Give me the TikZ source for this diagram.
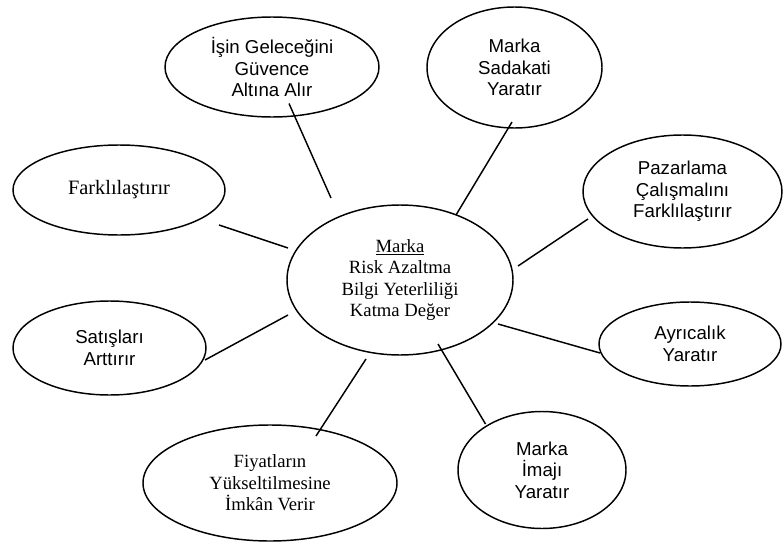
\documentclass[tikz,border=0pt]{standalone}
\usepackage{fontspec}
\setmainfont{Liberation Serif}
\setsansfont{Liberation Sans}
\usetikzlibrary{shapes.geometric,calc}

\tikzset{
  bubble/.style={draw, ellipse, line width=1.1pt, inner sep=0pt, align=center},
  % ellipse given by its semi-axes, in drawing units (px)
  axes/.style 2 args={minimum width=#1*1.5pt, minimum height=#2*1.5pt},
  sanstxt/.style={font=\sffamily\fontsize{14}{16.2}\selectfont},
  seriftxt/.style={font=\rmfamily\fontsize{14}{16.2}\selectfont},
  link/.style={line width=1.1pt}
}

\begin{document}
\begin{tikzpicture}[x=0.75pt, y=-0.75pt]
\useasboundingbox (0,0) rectangle (783,543);

% central ellipse
\node[bubble, seriftxt, axes={113}{75}] (c) at (400,280)
  {\underline{Marka}\\Risk Azaltma\\Bilgi Yeterliliği\\Katma Değer};

% surrounding ellipses
\node[bubble, sanstxt, axes={107}{50}] (isin) at (272,67)
  {İşin Geleceğini\\Güvence\\Altına Alır};
\node[bubble, sanstxt, axes={87.5}{60.5}] (sad) at (514.5,67.5)
  {Marka\\Sadakati\\Yaratır};
\node[bubble, axes={106}{45}, text depth=4pt,
      font=\rmfamily\fontsize{15.3}{17}\selectfont] (fark) at (119,190)
  {Farklılaştırır};
\node[bubble, sanstxt, axes={99.5}{56.5}] (paz) at (682.5,191.5)
  {Pazarlama\\Çalışmalını\\Farklılaştırır};
\node[bubble, sanstxt, axes={96.5}{47}] (sat) at (109.5,348)
  {Satışları\\Arttırır};
\node[bubble, sanstxt, axes={91}{42}] (ayr) at (690,344)
  {Ayrıcalık\\Yaratır};
\node[bubble, sanstxt, axes={84}{58.5}] (ima) at (542,470)
  {Marka\\İmajı\\Yaratır};
\node[bubble, seriftxt, axes={127}{58}] (fiy) at (270,483)
  {Fiyatların\\Yükseltilmesine\\İmkân Verir};

% spokes from the centre
\draw[link] ($(c.center)+(-69,-82)$) -- ($(isin.center)+(17,36.5)$);
\draw[link] ($(c.center)+(56,-65)$) -- ($(sad.center)+(-2.5,54.5)$);
\draw[link] ($(c.center)+(-112,-32)$) -- ($(fark.center)+(100,35)$);
\draw[link] ($(c.center)+(118,-14)$) -- ($(paz.center)+(-94.5,27.5)$);
\draw[link] ($(c.center)+(-112,35)$) -- ($(sat.center)+(95.5,12)$);
\draw[link] ($(c.center)+(98,44)$) -- ($(ayr.center)+(-90,9)$);
\draw[link] ($(c.center)+(38,64)$) -- ($(ima.center)+(-56.5,-46)$);
\draw[link] ($(c.center)+(-34,79)$) -- ($(fiy.center)+(46,-47)$);
\end{tikzpicture}
\end{document}
